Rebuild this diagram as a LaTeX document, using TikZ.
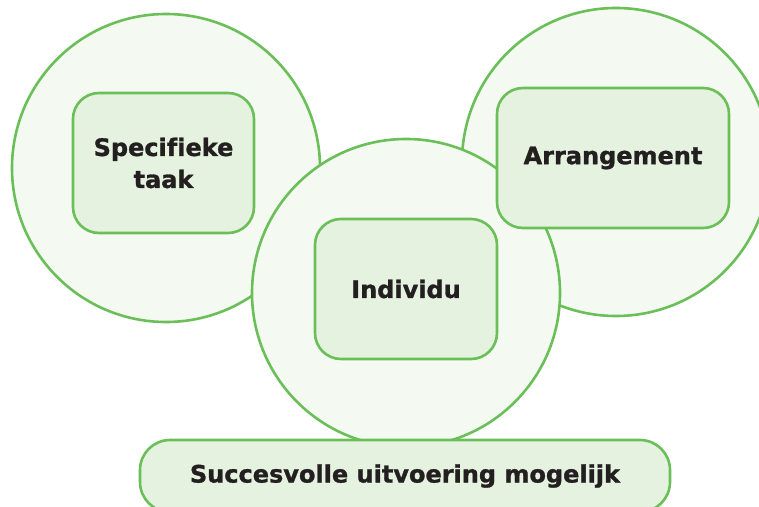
\documentclass[tikz,border=0pt]{standalone}
\usepackage{fontspec}
\setmainfont{DejaVu Sans}[Ligatures=NoCommon, BoldFeatures={FakeBold=1.2}]
\definecolor{gline}{HTML}{6BBF59}
\definecolor{cfill}{HTML}{F4FAF2}
\definecolor{bfill}{HTML}{E5F2DF}
\definecolor{txt}{HTML}{231F20}
\begin{document}
\begin{tikzpicture}[x=1pt,y=-1pt,
  bigcirc/.style={circle, draw=gline, fill=cfill, line width=2.6pt, minimum size=308pt, inner sep=0pt},
  box/.style={rectangle, rounded corners=26pt, draw=gline, fill=bfill, line width=2.6pt, inner sep=0pt,
    text=txt, align=center, font=\fontsize{24}{32}\selectfont\bfseries}]
\clip (0,0) rectangle (759,506);
\fill[white] (0,0) rectangle (759,506);
\node[bigcirc] (cl) at (166,168) {};
\node[bigcirc] (cr) at (616,162) {};
\node[bigcirc] (cm) at (406,293) {};
\node[box, minimum width=181pt, minimum height=140pt] (bl) at (163.5,163) {Specifieke\\taak};
\node[box, minimum width=232pt, minimum height=140pt] (br) at (613,158) {Arrangement};
\node[box, minimum width=182pt, minimum height=140pt] (bm) at (406,289) {Individu};
\node[box, minimum width=530pt, minimum height=72pt, rounded corners=30pt] (bb) at (405,476) {Succesvolle uitvoering mogelijk};
\end{tikzpicture}
\end{document}
